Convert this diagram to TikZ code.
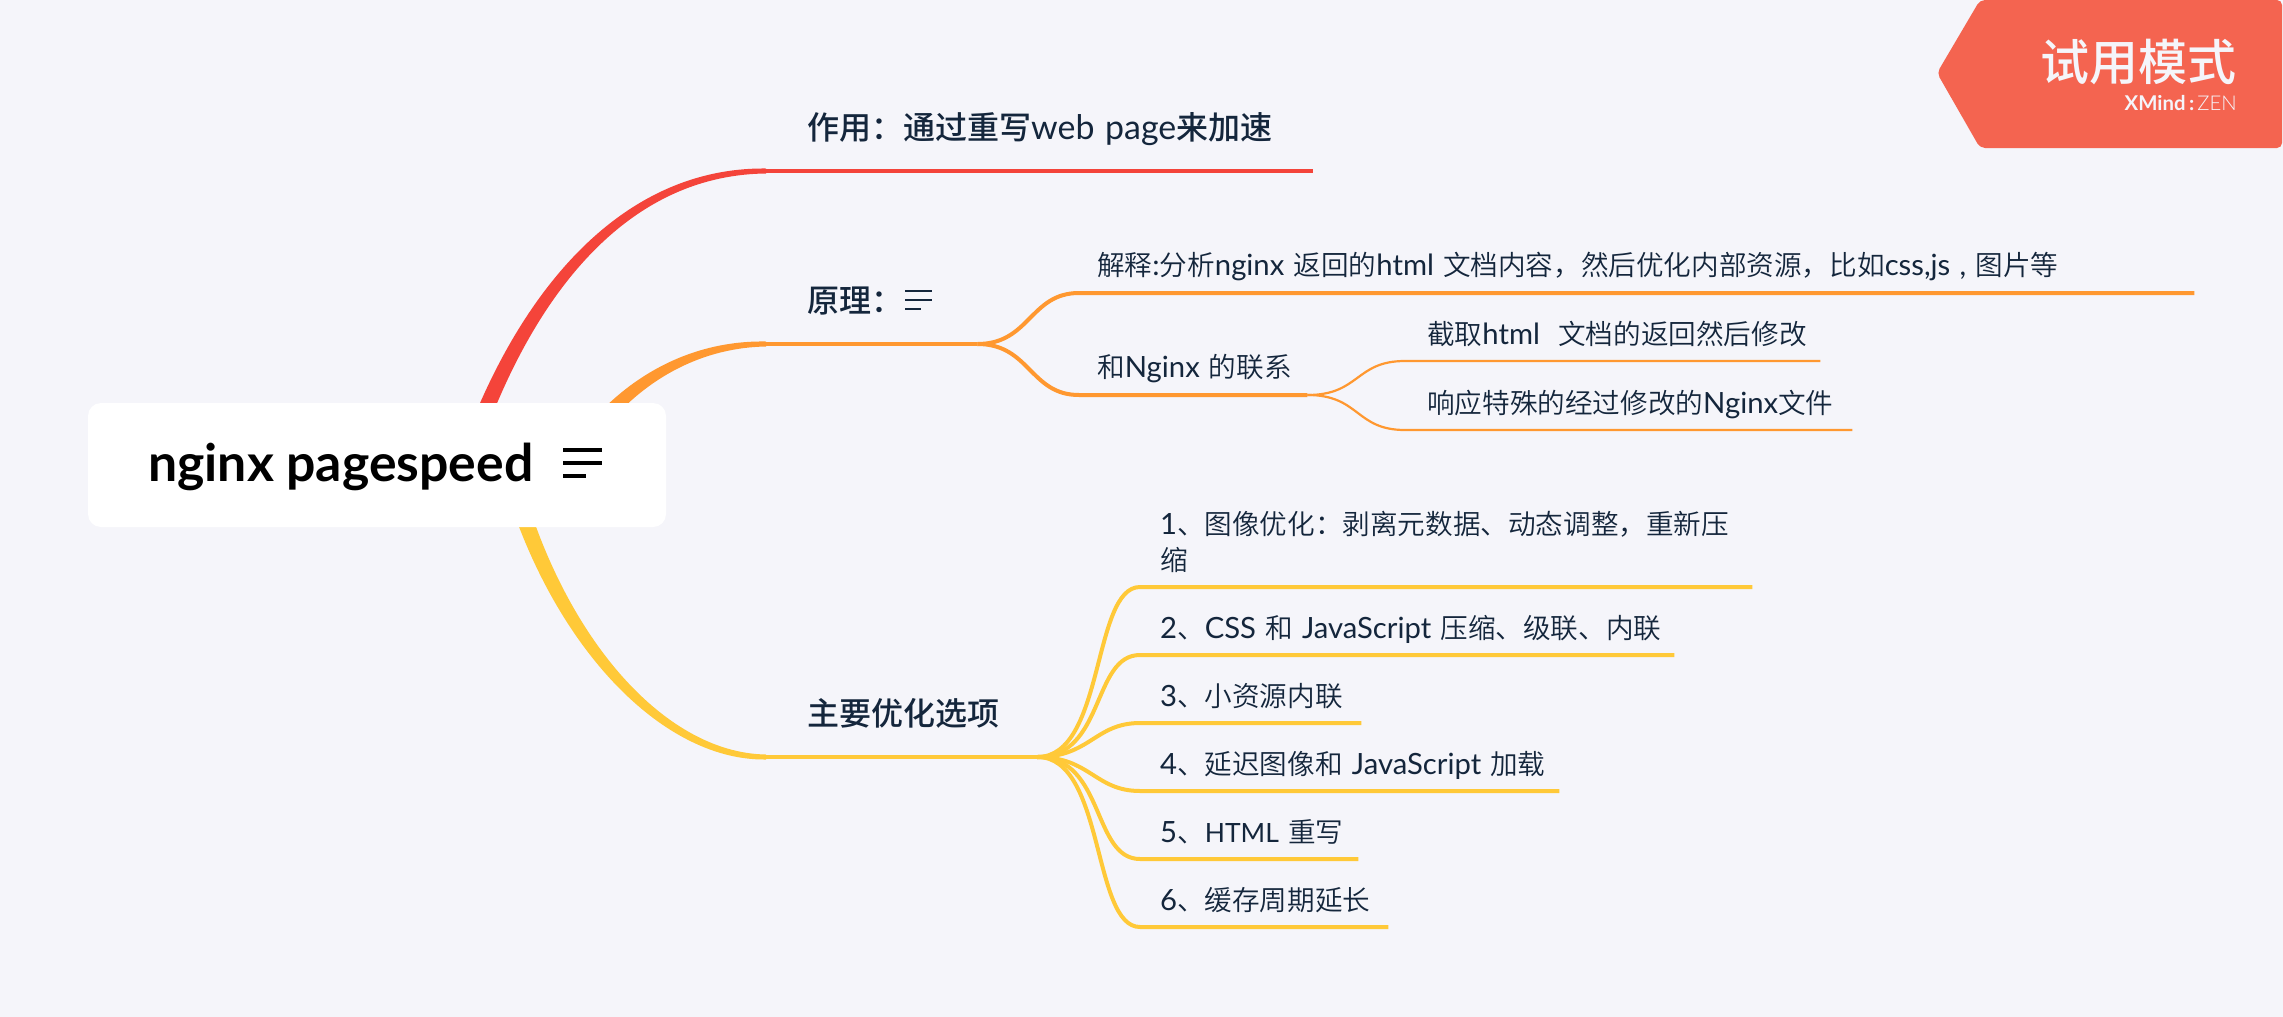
\documentclass[tikz,border=0pt]{standalone}
\usepackage{fontspec}
\usetikzlibrary{calc,backgrounds}
\setmainfont{Noto Sans CJK SC DemiLight}
\newfontfamily\cjkmed{Noto Sans CJK SC Medium}
\newfontfamily\lafont[Scale=1.06]{Lato}
\newfontfamily\lathin[Scale=1.06]{Lato Light}
\newcommand\la[1]{{\lafont #1}}
\definecolor{bgc}{HTML}{F5F5FA}
\definecolor{redc}{HTML}{F4443A}
\definecolor{orac}{HTML}{FF9830}
\definecolor{yelc}{HTML}{FFC938}
\definecolor{banc}{HTML}{F46450}
\definecolor{txtc}{HTML}{14263C}
\tikzset{
  topic/.style={anchor=south west,inner sep=0pt,align=left,text depth=0pt,text=txtc},
  lead/.style={execute at begin node={\hspace*{#1pt}}},
  lvla/.style={topic,lead=41,inner ysep=31pt,font=\fontsize{32}{42}\selectfont\cjkmed},
  lvlb/.style={topic,lead=18,inner ysep=17pt,font=\fontsize{27.6}{38}\selectfont},
  lvlc/.style={topic,lead=20,inner ysep=16pt,font=\fontsize{27.6}{36}\selectfont},
  ula/.style={line width=4pt},
  ulb/.style={line width=4pt},
  ulc/.style={line width=2.2pt},
  bar/.style={line width=3.6pt,draw=black},
  barb/.style={line width=2.6pt,draw=txtc},
}
% colour, start, control 1, control 2, end, and the half-width offset at each of those four points
\newcommand\taper[9]{\fill[#1] ($(#2)+(#6)$) .. controls ($(#3)+(#7)$) and ($(#4)+(#8)$) .. ($(#5)+(#9)$)
  -- ($(#5)-(#9)$) .. controls ($(#4)-(#8)$) and ($(#3)-(#7)$) .. ($(#2)-(#6)$) -- cycle;}
\begin{document}
\begin{tikzpicture}[x=1pt,y=-1pt]
\useasboundingbox (0,0) rectangle (2283,1017);
% root
\node[fill=white,rounded corners=13pt,minimum width=578pt,minimum height=124pt,inner sep=0pt] (root) at (377,465) {};
\node[anchor=base west,inner sep=0pt,font=\fontsize{48.8}{48}\selectfont\bfseries] (rootlabel) at (148,481) {\la{nginx pagespeed}};
\draw[bar] (563,450) -- (602,450) (563,463) -- (602,463) (563,476) -- (586,476);
% banner
\fill[banc,rounded corners=5pt] (1937,73) -- (1980,0) -- (2282,0) -- (2282,148) -- (1980,148) -- cycle;
\node[anchor=base east,inner sep=0pt,text=bgc,font=\fontsize{49}{48}\selectfont\cjkmed] (trial) at (2237,80) {试用模式};
\node[anchor=base east,inner sep=0pt,text=bgc,font=\fontsize{19.2}{20}\selectfont] (zen) at (2237,110) {{\lafont\bfseries XMind\,:}\,{\lathin ZEN}};
% level 1 topics
\node[lvla,text width=547pt] (t1) at (766,171) {作用：通过重写\la{web page}来加速};
\node[lvla,text width=211pt] (t2) at (766,344) {原理：};
\node[lvla,text width=271pt] (t3) at (766,757) {主要优化选项};
\draw[barb] (905,291) -- (932,291) (905,300) -- (932,300) (905,309) -- (921,309);
% level 2 orange
\node[lvlb,text width=1115pt] (o1) at (1079,293) {解释\la{:}分析\la{nginx} 返回的\la{html} 文档内容，然后优化内部资源，比如\la{css,js ,} 图片等};
\node[lvlb,text width=228pt] (o2) at (1079,395) {和\la{Nginx} 的联系};
\node[lvlc,lead=2,text width=415pt] (p1) at (1405,361) {\mbox{截取\la{html}\ \ 文档的返回然后修改}};
\node[lvlc,lead=2,text width=447pt] (p2) at (1405,430) {响应特殊的经过修改的\la{Nginx}文件};
% level 2 yellow
\node[lvlc,text width=612pt] (y1) at (1140,587) {\parbox[b]{580pt}{\raggedright\la{1}、图像优化：剥离元数据、动态调整，重新压\\缩}};
\node[lvlc,text width=534pt] (y2) at (1140,655) {\la{2}、\la{CSS} 和 \la{JavaScript} 压缩、级联、内联};
\node[lvlc,text width=221pt] (y3) at (1140,723) {\la{3}、小资源内联};
\node[lvlc,text width=419pt] (y4) at (1140,791) {\la{4}、延迟图像和 \la{JavaScript} 加载};
\node[lvlc,text width=218pt] (y5) at (1140,859) {\la{5}、{\fontsize{25}{36}\selectfont\lafont HTML} 重写};
\node[lvlc,text width=248pt] (y6) at (1140,927) {\la{6}、缓存周期延长};
\begin{scope}[on background layer]
\fill[bgc] (0,0) rectangle (2283,1017);
\coordinate (s1) at ($(root.center)+(88,0)$);
\coordinate (s2) at ($(root.center)+(193,0)$);
\coordinate (s3) at ($(root.center)+(131,0)$);
\taper{redc}{s1}{520,300}{620,171}{t1.south west}{-9,0}{-7,-3}{-2,-4}{0,-2.5}
\taper{orac}{s2}{610,395}{680,344}{t2.south west}{-10,0}{-6,-5}{-2,-4}{0,-2.5}
\taper{yelc}{s3}{552,635}{660,757}{t3.south west}{9,0}{7,-3}{2,-4}{0,-2.5}
\draw[ula,redc] (t1.south west) -- (t1.south east);
\draw[ula,orac] (t2.south west) -- (t2.south east);
\draw[ula,yelc] (t3.south west) -- (t3.south east);
\begin{scope}[ulb]
\draw[orac] (t2.south east) .. controls (1030,344) and (1030,293) .. (o1.south west) -- (o1.south east);
\draw[orac] (t2.south east) .. controls (1030,344) and (1030,395) .. (o2.south west) -- (o2.south east);
\end{scope}
\begin{scope}[ulc]
\draw[orac] (o2.south east) .. controls (1360,395) and (1355,361) .. (p1.south west) -- (p1.south east);
\draw[orac] (o2.south east) .. controls (1360,395) and (1355,430) .. (p2.south west) -- (p2.south east);
\end{scope}
\begin{scope}[ulb]
\draw[yelc] (t3.south east) .. controls (1105,757) and (1092,587) .. (y1.south west) -- (y1.south east);
\draw[yelc] (t3.south east) .. controls (1105,757) and (1092,655) .. (y2.south west) -- (y2.south east);
\draw[yelc] (t3.south east) .. controls (1090,757) and (1095,723) .. (y3.south west) -- (y3.south east);
\draw[yelc] (t3.south east) .. controls (1090,757) and (1095,791) .. (y4.south west) -- (y4.south east);
\draw[yelc] (t3.south east) .. controls (1105,757) and (1092,859) .. (y5.south west) -- (y5.south east);
\draw[yelc] (t3.south east) .. controls (1105,757) and (1092,927) .. (y6.south west) -- (y6.south east);
\end{scope}
\end{scope}
\end{tikzpicture}
\end{document}
